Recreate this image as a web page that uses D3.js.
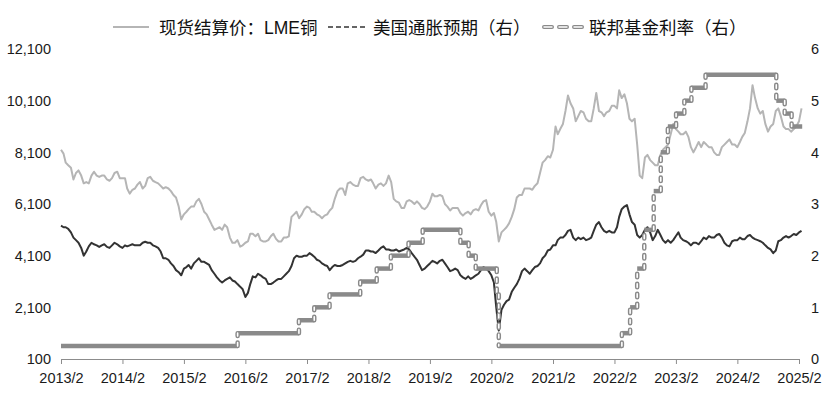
<!DOCTYPE html>
<html><head><meta charset="utf-8">
<script src="https://cdn.jsdelivr.net/npm/d3@7"></script>
<style>body{margin:0;background:#fff} svg{display:block}</style>
</head><body>
<svg id="c" width="832" height="397"></svg>
<script>
// Semi-monthly observations (1st and 16th of each month), 2013/2 .. 2025/2
const copperPrice = [
 8200,8050,7700,7600,7500,7050,7300,7400,7200,6900,6950,6900,7200,7350,7200,7150,7200,7200,7050,7000,7100,7300,
 7350,7100,7100,7100,6700,6500,6650,6700,6850,6950,6700,6800,7100,7150,7000,6950,6900,6800,6700,6750,6700,6600,6450,6350,
 6000,5500,5700,5800,5900,6000,6000,6200,6300,6100,5800,5700,5500,5300,5100,5150,5200,5100,5300,5200,4800,4600,4600,4700,
 4450,4500,4600,4650,4950,4950,4850,4950,4700,4650,4650,4700,4850,4950,4750,4650,4650,4800,4800,4850,5600,5700,5800,5550,
 5700,5900,6000,5950,5800,5800,5700,5650,5550,5650,5700,5850,5950,6300,6600,6700,6700,6450,6900,6950,6850,6800,6800,7100,
 7150,7050,7000,7050,6900,6700,6850,6900,6800,6900,7200,6950,6300,6200,6150,5950,5950,6200,6250,6200,6100,6200,6100,5950,
 5900,6000,6200,6500,6400,6400,6450,6400,6100,6000,5850,5950,5950,5950,5750,5650,5750,5800,5700,5850,5900,5850,6050,6200,
 6250,5800,5650,5750,5400,4650,5000,5100,5200,5350,5600,5900,6350,6450,6450,6700,6700,6700,6650,6800,6900,7300,7700,7800,
 7950,7900,8200,9100,8800,9000,9200,9700,10300,10000,9800,9300,9500,9700,9650,9400,9300,9300,9800,10400,9700,9650,9500,9650,
 9700,9900,9900,9800,10500,10200,10350,10000,9400,9300,9400,8400,7200,7100,7900,8000,7800,7700,7600,7600,8000,8200,8300,8400,
 8800,9200,9000,8900,8800,8800,8900,8700,8300,8100,8300,8500,8300,8500,8400,8300,8300,8100,8000,8000,8300,8400,8500,8600,
 8400,8400,8300,8500,8700,8850,9300,9800,10700,10200,9800,9600,9700,9200,8900,9100,9200,9700,9800,9500,9100,9000,9000,8900,
 9000,9100,9300,9800
];
const inflationExp = [
 2.58,2.55,2.55,2.52,2.45,2.35,2.30,2.25,2.15,2.00,2.08,2.18,2.25,2.22,2.20,2.17,2.20,2.22,2.17,2.15,2.20,2.25,
 2.22,2.18,2.15,2.20,2.18,2.20,2.22,2.20,2.20,2.20,2.25,2.27,2.25,2.25,2.20,2.18,2.15,2.08,1.95,1.95,1.92,1.85,1.80,1.72,
 1.68,1.62,1.75,1.78,1.82,1.75,1.85,1.90,1.95,1.88,1.88,1.85,1.82,1.72,1.65,1.58,1.52,1.48,1.52,1.55,1.58,1.52,1.50,1.45,
 1.40,1.35,1.20,1.28,1.45,1.60,1.58,1.65,1.62,1.58,1.55,1.45,1.45,1.48,1.52,1.55,1.55,1.60,1.65,1.70,1.80,1.95,2.00,1.98,
 1.98,2.00,2.00,2.05,2.02,1.98,1.92,1.90,1.85,1.82,1.80,1.72,1.78,1.82,1.80,1.80,1.82,1.85,1.88,1.90,1.88,1.90,1.95,1.98,
 2.02,2.10,2.10,2.08,2.08,2.05,2.10,2.15,2.18,2.12,2.12,2.10,2.10,2.12,2.08,2.10,2.12,2.15,2.12,2.05,1.98,1.92,1.82,1.72,
 1.75,1.80,1.85,1.90,1.88,1.85,1.90,1.92,1.85,1.78,1.70,1.72,1.75,1.72,1.62,1.58,1.55,1.60,1.55,1.58,1.62,1.65,1.72,1.78,
 1.75,1.70,1.62,1.48,1.00,0.55,0.95,1.05,1.12,1.15,1.30,1.38,1.45,1.55,1.70,1.75,1.70,1.65,1.72,1.78,1.80,1.85,1.95,2.00,
 2.10,2.12,2.20,2.20,2.30,2.35,2.35,2.40,2.48,2.50,2.35,2.30,2.35,2.32,2.35,2.30,2.32,2.35,2.48,2.60,2.65,2.55,2.48,2.45,
 2.48,2.45,2.45,2.55,2.75,2.90,2.95,2.98,2.80,2.65,2.60,2.40,2.35,2.40,2.50,2.55,2.45,2.30,2.38,2.50,2.40,2.30,2.25,2.30,
 2.25,2.30,2.38,2.45,2.35,2.30,2.28,2.25,2.20,2.25,2.25,2.22,2.28,2.35,2.32,2.38,2.35,2.35,2.40,2.42,2.35,2.25,2.20,2.18,
 2.28,2.30,2.30,2.35,2.32,2.32,2.38,2.40,2.35,2.32,2.30,2.28,2.25,2.20,2.15,2.12,2.05,2.10,2.28,2.30,2.35,2.38,2.35,2.38,
 2.42,2.40,2.45,2.48
];
const fedDates = ["2013-02-01","2015-12-17","2016-12-15","2017-03-16","2017-06-15","2017-12-14","2018-03-22","2018-06-14","2018-09-27","2018-12-20","2019-08-01","2019-09-19","2019-10-31","2020-03-04","2020-03-16","2022-03-17","2022-05-05","2022-06-16","2022-07-28","2022-09-22","2022-11-03","2022-12-15","2023-02-02","2023-03-23","2023-05-04","2023-07-27","2024-09-19","2024-11-08","2024-12-19","2025-02-20"];
const fedRates = [0.25,0.5,0.75,1.0,1.25,1.5,1.75,2.0,2.25,2.5,2.25,2.0,1.75,1.25,0.25,0.5,1.0,1.75,2.5,3.25,4.0,4.5,4.75,5.0,5.25,5.5,5.0,4.75,4.5,4.5];
const xTickLabels = ["2013/2","2014/2","2015/2","2016/2","2017/2","2018/2","2019/2","2020/2","2021/2","2022/2","2023/2","2024/2","2025/2"];
const leftTicks = [100,2100,4100,6100,8100,10100,12100];
const rightTicks = [0,1,2,3,4,5,6];
const legendLabels = ["现货结算价：LME铜","美国通胀预期（右）","联邦基金利率（右）"];

const svg = d3.select("#c");
const FONT = "'Liberation Sans', Arial, 'Noto Sans CJK SC', sans-serif";
const semiDate = i => new Date(2013, 1 + Math.floor(i/2), i%2 ? 16 : 1);
const parse = d3.timeParse("%Y-%m-%d");

const x = d3.scaleTime().domain([new Date(2013,1,1), new Date(2025,1,1)]).range([61,799]);
const yL = d3.scaleLinear().domain([100,12100]).range([359,49]);
const yR = d3.scaleLinear().domain([0,6]).range([359,49]);

// x axis
const tickDates = xTickLabels.map(s => { const [yy,mm] = s.split("/").map(Number); return new Date(yy, mm-1, 1); });
const xAxis = d3.axisBottom(x).tickValues(tickDates).tickSizeOuter(0).tickSize(5).tickPadding(9)
  .tickFormat((d,i) => xTickLabels[i]);
const gx = svg.append("g").attr("transform","translate(0,359)").call(xAxis);
gx.select(".domain").attr("stroke","#8c8c8c").attr("stroke-width",1);
gx.selectAll(".tick line").attr("stroke","#8c8c8c");
gx.selectAll(".tick text").attr("font-family",FONT).attr("font-size","14.5px").attr("fill","#1a1a1a");

// left / right labels
const fmt = d3.format(",");
svg.append("g").selectAll("text").data(leftTicks).join("text")
  .attr("x",51).attr("y",d=>yL(d)).attr("dy","0.36em").attr("text-anchor","end")
  .attr("font-family",FONT).attr("font-size","14.5px").attr("fill","#1a1a1a").text(d=>fmt(d));
svg.append("g").selectAll("text").data(rightTicks).join("text")
  .attr("x",811).attr("y",d=>yR(d)).attr("dy","0.36em").attr("text-anchor","start")
  .attr("font-family",FONT).attr("font-size","14.5px").attr("fill","#1a1a1a").text(d=>d);

// copper
const lineL = d3.line().x((d,i)=>x(semiDate(i))).y(d=>yL(d));
svg.append("path").attr("d", lineL(copperPrice)).attr("fill","none")
  .attr("stroke","#b5b5b5").attr("stroke-width",2).attr("stroke-linejoin","round");
// inflation
const lineR = d3.line().x((d,i)=>x(semiDate(i))).y(d=>yR(d));
svg.append("path").attr("d", lineR(inflationExp)).attr("fill","none")
  .attr("stroke","#333333").attr("stroke-width",2).attr("stroke-linejoin","round");

// fed funds steps
const fd = fedDates.map(parse);
const seg = d3.line().x(d=>x(d[0])).y(d=>yR(d[1]));
const gF = svg.append("g");
const hSegs = [], vSegs = [];
for (let i=0;i<fd.length-1;i++){
  hSegs.push([[fd[i],fedRates[i]],[fd[i+1],fedRates[i]]]);
  if (fedRates[i+1]!==fedRates[i]) vSegs.push([[fd[i+1],fedRates[i]],[fd[i+1],fedRates[i+1]]]);
}
gF.selectAll("path.h").data(hSegs).join("path").attr("class","h").attr("d",seg)
  .attr("fill","none").attr("stroke","#8a8a8a").attr("stroke-width",4.5);
gF.selectAll("path.v").data(vSegs).join("path").attr("class","v").attr("d",seg)
  .attr("fill","none").attr("stroke","#8a8a8a").attr("stroke-width",4.5)
  .attr("stroke-linecap","round").attr("stroke-dasharray","3.5 6.5");
gF.selectAll("path.vi").data(vSegs).join("path").attr("class","vi").attr("d",seg)
  .attr("fill","none").attr("stroke","#ffffff").attr("stroke-width",1.6)
  .attr("stroke-linecap","round").attr("stroke-dasharray","3.5 6.5");

// legend
const lg = svg.append("g");
lg.append("line").attr("x1",113).attr("x2",149).attr("y1",27).attr("y2",27)
  .attr("stroke","#b5b5b5").attr("stroke-width",2);
lg.append("text").attr("x",159).attr("y",34).text(legendLabels[0]);
lg.append("line").attr("x1",328).attr("x2",366).attr("y1",27).attr("y2",27)
  .attr("stroke","#333").attr("stroke-width",1.6).attr("stroke-dasharray","5 3");
lg.append("text").attr("x",373).attr("y",34).text(legendLabels[1]);
lg.append("line").attr("x1",544).attr("x2",584).attr("y1",27).attr("y2",27)
  .attr("stroke","#8a8a8a").attr("stroke-width",4).attr("stroke-linecap","round").attr("stroke-dasharray","8 7");
lg.append("line").attr("x1",544).attr("x2",584).attr("y1",27).attr("y2",27)
  .attr("stroke","#fff").attr("stroke-width",1.4).attr("stroke-linecap","round").attr("stroke-dasharray","8 7");
lg.append("text").attr("x",589).attr("y",34).text(legendLabels[2]);
lg.selectAll("text").attr("font-family",FONT).attr("font-size","17.5px").attr("fill","#111");
</script>
</body></html>
